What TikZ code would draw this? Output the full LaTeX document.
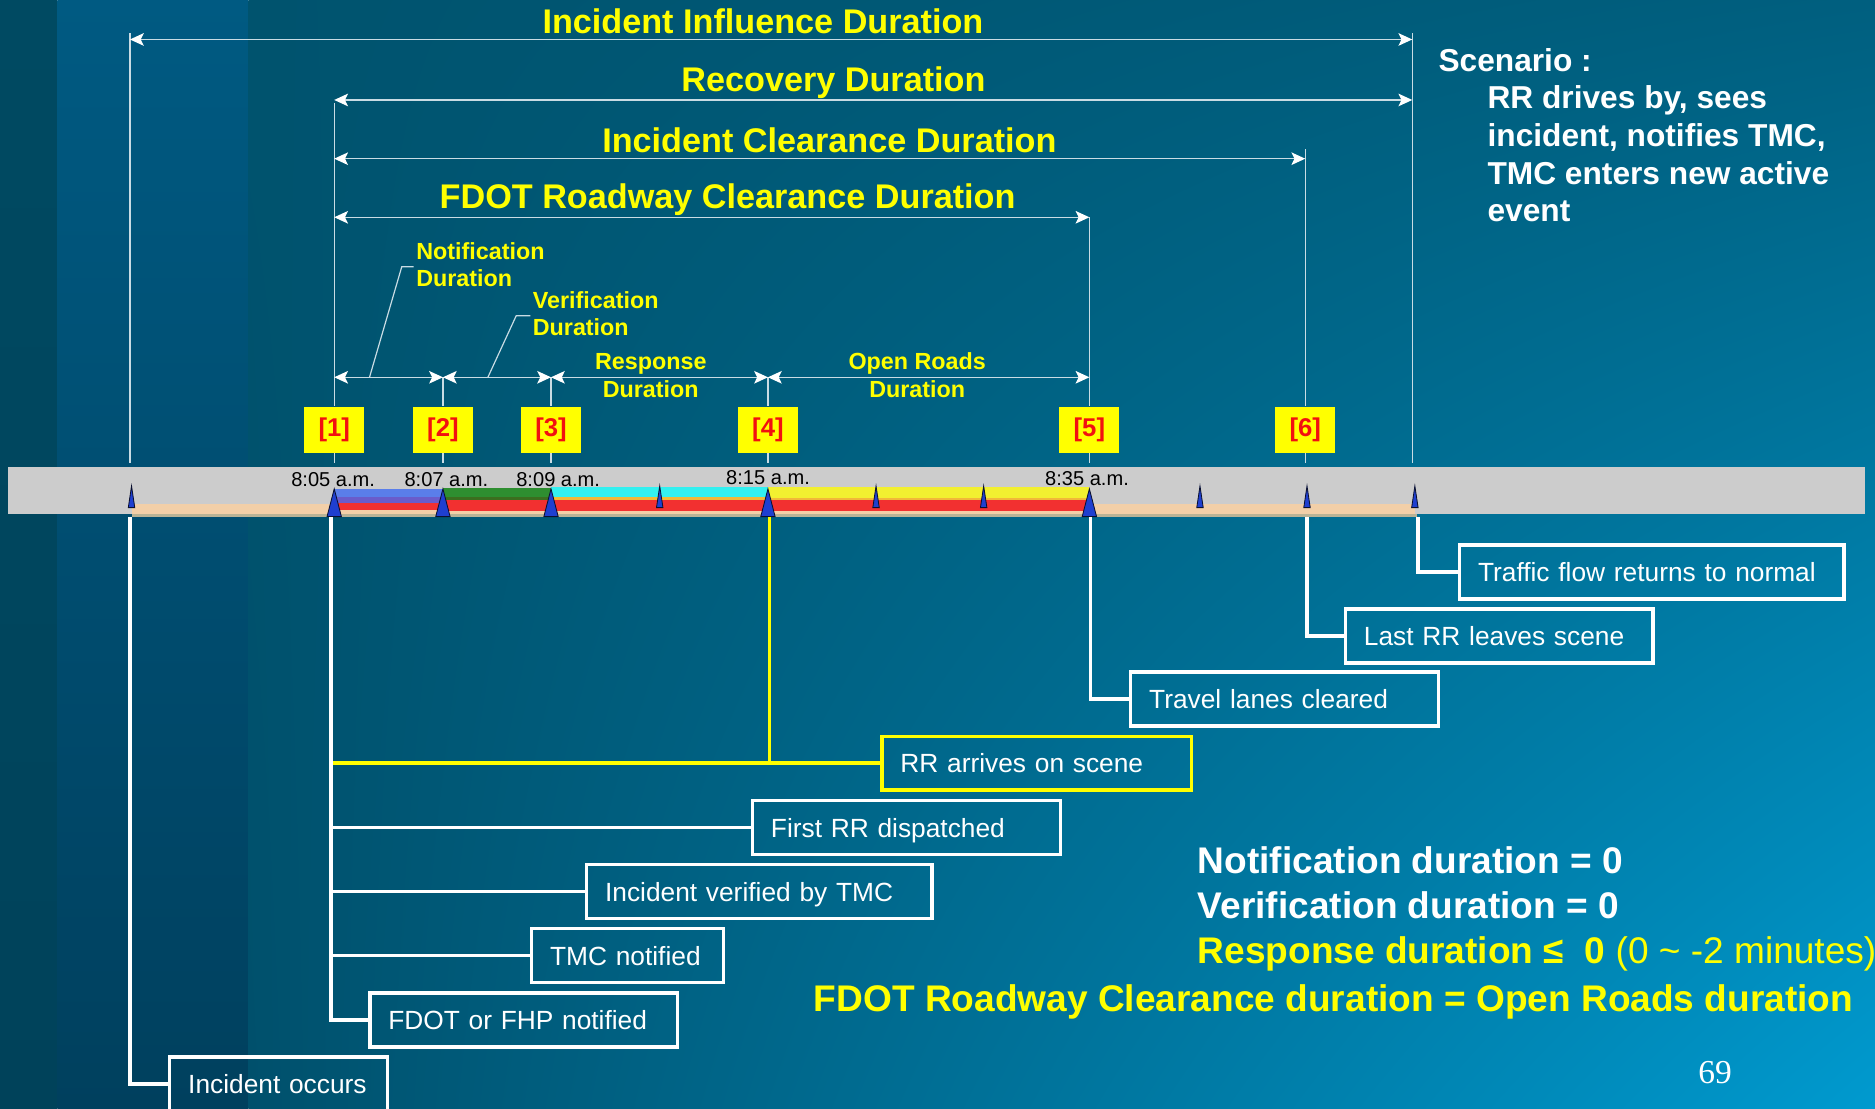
\documentclass[tikz,border=0pt]{standalone}
\usepackage{fontspec}
\setmainfont{Liberation Sans}
\newfontfamily\serifnum{Liberation Serif}
\usetikzlibrary{arrows.meta,shadings}
\definecolor{ylw}{HTML}{FFFF00}
\definecolor{numred}{HTML}{F21010}
\definecolor{dimc}{HTML}{C9DCE4}
\definecolor{barg}{HTML}{CCCCCC}
\definecolor{peach}{HTML}{F2CFA8}
\definecolor{tanc}{HTML}{B9B396}
\definecolor{blueband}{HTML}{5A7EEA}
\definecolor{purpband}{HTML}{6A5CCB}
\definecolor{redband}{HTML}{F23030}
\definecolor{greenband}{HTML}{2E8E30}
\definecolor{dkgreen}{HTML}{3B6E1E}
\definecolor{cyanband}{HTML}{33F0F0}
\definecolor{orangeband}{HTML}{F2B838}
\definecolor{yelband}{HTML}{F2F030}
\definecolor{trifill}{HTML}{1F3FD0}
\definecolor{triedge}{HTML}{0A1030}
\definecolor{bgOne}{HTML}{004A62}
\definecolor{bgOneB}{HTML}{00425A}
\definecolor{bgTwoT}{HTML}{005A82}
\definecolor{bgTwoB}{HTML}{00405E}
\definecolor{bgUL}{HTML}{00536E}
\definecolor{bgUR}{HTML}{005F7F}
\definecolor{bgLL}{HTML}{00506C}
\definecolor{bgLR}{HTML}{009ACF}
\begin{document}
\begin{tikzpicture}[x=1pt,y=-1pt,
  dimarrow/.style={draw=dimc, line width=1.1pt, <->,
     >={Stealth[length=11.5pt,width=10.5pt,inset=2.5pt,color=white]}},
  guide/.style={draw=dimc, line width=1pt},
  titletxt/.style={font=\bfseries\fontsize{28.6}{30}\selectfont, text=ylw, inner sep=0pt, anchor=base},
  sublbl/.style={font=\bfseries\fontsize{19.5}{22}\selectfont, text=ylw, inner sep=0pt},
  numbox/.style={fill=ylw, minimum width=50pt, minimum height=39pt, inner sep=0pt,
     font=\bfseries\fontsize{21.5}{21.5}\selectfont, text=numred},
  evbox/.style={draw=white, line width=3pt, minimum height=45pt, inner xsep=15.5pt, inner ysep=0pt,
     text height=16pt, text depth=0pt, align=left, anchor=west,
     font=\fontsize{22}{24}\selectfont, text=white},
  timelbl/.style={font=\fontsize{16.8}{17}\selectfont, text=black, inner sep=0pt, anchor=base},
  scen/.style={font=\bfseries\fontsize{26.5}{28}\selectfont, text=white, inner sep=0pt, anchor=base west},
  sumtxt/.style={font=\bfseries\fontsize{31}{32}\selectfont, inner sep=0pt, anchor=base west},
  callout/.style={draw=white, line width=3pt},
  ycallout/.style={draw=ylw, line width=3pt},
  tri/.style={fill=trifill, draw=triedge, line width=0.7pt, line join=miter}
]
\useasboundingbox (0,0) rectangle (1568,927);
% ---------------- background
\shade[top color=bgOne, bottom color=bgOneB] (0,0) rectangle (48,927);
\shade[top color=bgTwoT, bottom color=bgTwoB] (48,0) rectangle (208,927);
\shade[upper left=bgUL, upper right=bgUR, lower left=bgLL, lower right=bgLR] (208,0) rectangle (1568,927);

% ---------------- timeline bar
\fill[barg] (7,390.5) rectangle (1560,430);
\fill[peach] (110,421.5) rectangle (1183,430);
\fill[tanc] (110,430) rectangle (1185,432.5);
% segment [1]-[2]
\fill[blueband] (279.5,409.2) rectangle (370.4,415.5);
\fill[purpband] (279.5,415.5) rectangle (370.4,420.5);
% segment [2]-[3]
\fill[greenband] (370.4,408) rectangle (460.8,415.5);
\fill[dkgreen] (370.4,415.5) rectangle (460.8,419);
% segment [3]-[4]
\fill[cyanband] (460.8,407.3) rectangle (642.2,415.6);
\fill[orangeband] (460.8,415.6) rectangle (642.2,418);
% segment [4]-[5]
\fill[yelband] (642.2,407.3) rectangle (911,416.3);
\fill[orangeband] (642.2,416.3) rectangle (911,418);
% red band
\fill[redband] (370.4,418.5) rectangle (911,427);
\fill[redband] (279.5,420.5) rectangle (370.4,426.5);

% triangles
\foreach \tx in {279.5,370.4,460.8,642.2,911}
  {\filldraw[tri] (\tx-6,432) -- (\tx,408.8) -- (\tx+6,432) -- cycle;}
\foreach \tx in {110,551.7,732.6,822.6,1003.5,1093,1183.2}
  {\filldraw[tri] (\tx-2.7,424.5) -- (\tx,406.4) -- (\tx+2.7,424.5) -- cycle;}

% time labels
\node[timelbl] (tm1) at (278.6,407) {8:05 a.m.};
\node[timelbl] (tm2) at (373.3,407) {8:07 a.m.};
\node[timelbl] (tm3) at (466.8,407) {8:09 a.m.};
\node[timelbl] (tm4) at (642.3,404.8) {8:15 a.m.};
\node[timelbl] (tm5) at (909,405.6) {8:35 a.m.};

% ---------------- number boxes
\node[numbox] (n1) at (279.5,359.5) {[1]};
\node[numbox] (n2) at (370.4,359.5) {[2]};
\node[numbox] (n3) at (460.8,359.5) {[3]};
\node[numbox] (n4) at (642.2,359.5) {[4]};
\node[numbox] (n5) at (911,359.5) {[5]};
\node[numbox] (n6) at (1091.5,359.5) {[6]};
\foreach \nb in {n1,n2,n3,n4,n5,n6} {\draw[guide] (\nb.south) -- ++(0,8);}

% ---------------- top duration arrows
\coordinate (infl) at (108.7,33);  \coordinate (infr) at (1181,33);
\coordinate (recl) at (279.5,83.6); \coordinate (recr) at (1181,83.6);
\coordinate (clrl) at (279.5,132.7); \coordinate (clrr) at (1091.5,132.7);
\coordinate (fdrl) at (279.5,181.7); \coordinate (fdrr) at (911,181.7);
\coordinate (infltop) at (108.7,28); \coordinate (inflbot) at (108.7,387);
\coordinate (infrtop) at (1181,28);  \coordinate (infrbot) at (1181,387);
\coordinate (recltop) at (279.5,86);
\coordinate (clrrtop) at (1091.5,125);
\coordinate (fdrrtop) at (911,181.7);

\draw[guide] (infltop) -- (inflbot);
\draw[guide] (infrtop) -- (infrbot);
\draw[guide] (recltop) -- (n1.north);
\draw[guide] (clrrtop) -- (n6.north);
\draw[guide] (fdrrtop) -- (n5.north);

\draw[dimarrow] (infl) -- (infr);
\draw[dimarrow] (recl) -- (recr);
\draw[dimarrow] (clrl) -- (clrr);
\draw[dimarrow] (fdrl) -- (fdrr);

\node[titletxt] (tinf) at (638,27.9) {Incident Influence Duration};
\node[titletxt] (trec) at (697,76.7) {Recovery Duration};
\node[titletxt] (tclr) at (693.6,127.4) {Incident Clearance Duration};
\node[titletxt] (tfdr) at (608.5,174) {FDOT Roadway Clearance Duration};

% ---------------- sub-duration arrows
\coordinate (s1) at (279.5,315.5);
\coordinate (s2) at (370.4,315.5);
\coordinate (s3) at (460.8,315.5);
\coordinate (s4) at (642.2,315.5);
\coordinate (s5) at (911,315.5);
\draw[guide] (s2) -- (n2.north);
\draw[guide] (s3) -- (n3.north);
\draw[guide] (s4) -- (n4.north);
\draw[dimarrow] (s1) -- (s2);
\draw[dimarrow] (s2) -- (s3);
\draw[dimarrow] (s3) -- (s4);
\draw[dimarrow] (s4) -- (s5);

\node[sublbl, anchor=base west] (notA) at (347.9,217.4) {Notification};
\node[sublbl, anchor=base west] (notB) at (347.9,240) {Duration};
\node[sublbl, anchor=base west] (verA) at (445.4,257.8) {Verification};
\node[sublbl, anchor=base west] (verB) at (445.4,280.7) {Duration};
\node[sublbl, anchor=base] (resA) at (544.2,308.6) {Response};
\node[sublbl, anchor=base] (resB) at (544.2,332.3) {Duration};
\node[sublbl, anchor=base] (opnA) at (767,308.6) {Open Roads};
\node[sublbl, anchor=base] (opnB) at (767,332.3) {Duration};

\coordinate (notk1) at (346,223); \coordinate (notk2) at (336,223); \coordinate (notk3) at (309,315.5);
\coordinate (verk1) at (443.5,264); \coordinate (verk2) at (431.7,264); \coordinate (verk3) at (408,315.5);
\draw[guide] (notk1) -- (notk2) -- (notk3);
\draw[guide] (verk1) -- (verk2) -- (verk3);

% ---------------- scenario text
\node[scen] (sc0) at (1202.8,59.4) {Scenario :};
\node[scen] (sc1) at (1243.8,90.6) {RR drives by, sees};
\node[scen] (sc2) at (1243.8,122.7) {incident, notifies TMC,};
\node[scen] (sc3) at (1243.8,154.7) {TMC enters new active};
\node[scen] (sc4) at (1243.8,185.4) {event};

% ---------------- event boxes
\node[evbox, text width=290.5pt] (traffic) at (1219,478.4) {Traffic flow returns to normal};
\node[evbox, text width=226.4pt] (lastrr) at (1123.6,532) {Last RR leaves scene};
\node[evbox, text width=226.5pt] (travel) at (944,584.4) {Travel lanes cleared};
\node[evbox, draw=ylw, text width=228pt] (arrives) at (736,638.3) {RR arrives on scene};
\node[evbox, text width=226.8pt] (first) at (627.7,692) {First RR dispatched};
\node[evbox, text width=258pt] (verified) at (489,745.5) {Incident verified by TMC};
\node[evbox, text width=129.7pt] (tmcnot) at (443,799) {TMC notified};
\node[evbox, text width=226.5pt] (fdotnot) at (307.7,853) {FDOT or FHP notified};
\node[evbox, text width=151pt] (occurs) at (140.4,906.5) {Incident occurs};

% ---------------- callout connectors
\coordinate (c0) at (108.7,432.5);
\coordinate (c1) at (276.6,432.5);
\coordinate (c4) at (643.6,432.5);
\coordinate (c5) at (912,432.5);
\coordinate (c6) at (1092.8,432.5);
\coordinate (c7) at (1186,432.5);
\draw[ycallout] (c1 |- arrives.west) -- (arrives.west);
\draw[ycallout] (c4) |- (arrives.west);
\draw[callout] (c0) |- (occurs.west);
\draw[callout] (c1) |- (fdotnot.west);
\draw[callout] (c1 |- tmcnot.west) -- (tmcnot.west);
\draw[callout] (c1 |- verified.west) -- (verified.west);
\draw[callout] (c1 |- first.west) -- (first.west);
\draw[callout] (c5) |- (travel.west);
\draw[callout] (c6) |- (lastrr.west);
\draw[callout] (c7) |- (traffic.west);

% ---------------- summary text
\node[sumtxt, text=white] (sumA) at (1001.5,730.3) {Notification duration = 0};
\node[sumtxt, text=white] (sumB) at (1001.5,768) {Verification duration = 0};
\node[sumtxt, text=ylw] (sumC) at (1001.5,805.6) {Response duration ≤\ \ 0 {\mdseries (0 \textasciitilde\ -2 minutes)}};
\node[sumtxt, text=ylw] (sumD) at (680.5,846) {FDOT Roadway Clearance duration = Open Roads duration};
\node[anchor=base west, inner sep=0pt, text=white, font=\serifnum\fontsize{28}{28}\selectfont] (pg) at (1420,906) {69};
\end{tikzpicture}
\end{document}
